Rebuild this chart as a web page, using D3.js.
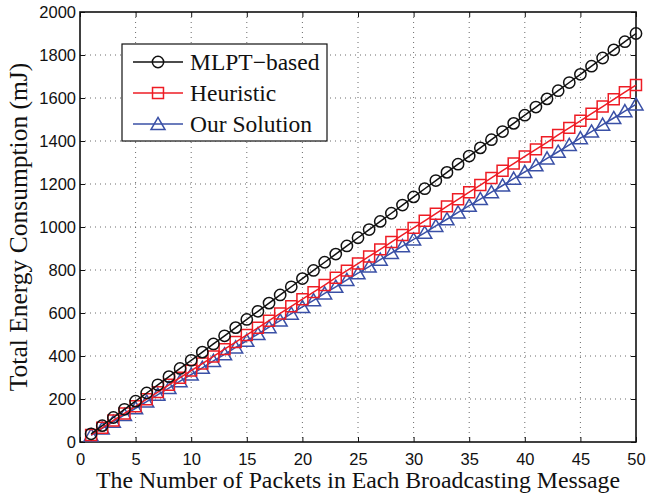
<!DOCTYPE html>
<html>
<head>
<script src="https://cdnjs.cloudflare.com/ajax/libs/d3/7.8.5/d3.min.js"></script>
<style>
  body { margin: 0; background: #fff; }
  svg text { fill: #111; }
</style>
</head>
<body>
<svg id="chart" width="647" height="496"></svg>
<script>
const packets = d3.range(1, 51)
const mlptValues = [38,76,114,152,190,228,266,304,342,380,418,456,494,532,570,608,646,684,722,760,798,836,874,912,950,988,1026,1064,1102,1140,1178,1216,1254,1292,1330,1368,1406,1444,1482,1520,1558,1596,1634,1672,1710,1748,1786,1824,1862,1900]
const heuristicValues = [33,66,100,133,166,199,232,266,299,332,365,398,432,465,498,531,564,598,631,664,697,730,764,797,830,863,896,930,963,996,1029,1062,1096,1129,1162,1195,1228,1262,1295,1328,1361,1394,1428,1461,1494,1527,1560,1594,1627,1660]
const ourValues = [31,63,94,126,157,188,220,251,283,314,345,377,408,440,471,502,534,565,597,628,659,691,722,754,785,816,848,879,911,942,973,1005,1036,1068,1099,1130,1162,1193,1225,1256,1287,1319,1350,1382,1413,1444,1476,1507,1539,1570]
const seriesNames = ["MLPT\u2212based", "Heuristic", "Our Solution"]
const xTicks = [0, 5, 10, 15, 20, 25, 30, 35, 40, 45, 50]
const yTicks = [0, 200, 400, 600, 800, 1000, 1200, 1400, 1600, 1800, 2000]

const plotLeft = 80, plotRight = 636, plotTop = 12, plotBottom = 442
const svg = d3.select("#chart")
const x = d3.scaleLinear().domain([0, 50]).range([plotLeft, plotRight])
const y = d3.scaleLinear().domain([0, 2000]).range([plotBottom, plotTop])

// grid
svg.append("g").selectAll("line").data(xTicks.slice(1, -1)).join("line")
  .attr("x1", d => x(d)).attr("x2", d => x(d)).attr("y1", plotTop).attr("y2", plotBottom)
  .attr("stroke", "#444").attr("stroke-width", 0.8).attr("stroke-dasharray", "1,4")
svg.append("g").selectAll("line").data(yTicks.slice(1, -1)).join("line")
  .attr("y1", d => y(d)).attr("y2", d => y(d)).attr("x1", plotLeft).attr("x2", plotRight)
  .attr("stroke", "#444").attr("stroke-width", 0.8).attr("stroke-dasharray", "1,4")

// axes
const tickFont = g => g.selectAll("text").style("font-family", "Liberation Sans, Arial, sans-serif").style("font-size", "16.5px").attr("fill", "#111")
svg.append("g").attr("transform", `translate(0,${plotBottom})`)
  .call(d3.axisBottom(x).tickValues(xTicks).tickSize(-5).tickPadding(11).tickFormat(d3.format("d")))
  .call(tickFont).call(g => g.select(".domain").remove())
svg.append("g").attr("transform", `translate(${plotLeft},0)`)
  .call(d3.axisLeft(y).tickValues(yTicks).tickSize(-5).tickPadding(4).tickFormat(d3.format("d")))
  .call(tickFont).call(g => g.select(".domain").remove())
svg.append("g").attr("transform", `translate(0,${plotTop})`)
  .call(d3.axisTop(x).tickValues(xTicks).tickSize(-5).tickFormat(""))
  .call(g => g.select(".domain").remove())
svg.append("g").attr("transform", `translate(${plotRight},0)`)
  .call(d3.axisRight(y).tickValues(yTicks).tickSize(-5).tickFormat(""))
  .call(g => g.select(".domain").remove())
svg.selectAll(".tick line").attr("stroke", "#111").attr("stroke-width", 1)
svg.append("rect").attr("x", plotLeft).attr("y", plotTop).attr("width", plotRight - plotLeft).attr("height", plotBottom - plotTop)
  .attr("fill", "none").attr("stroke", "#111").attr("stroke-width", 1.6)

// series
const series = [
  { name: seriesNames[0], values: mlptValues, color: "#111111", symbol: d3.symbolCircle, size: 100 },
  { name: seriesNames[1], values: heuristicValues, color: "#ee1c24", symbol: d3.symbolSquare, size: 120 },
  { name: seriesNames[2], values: ourValues, color: "#3a50a6", symbol: d3.symbolTriangle, size: 85 }
]
const line = d3.line().x((d, i) => x(packets[i])).y(d => y(d))
series.slice().reverse().forEach(s => {
  svg.append("path").datum(s.values).attr("d", line)
    .attr("fill", "none").attr("stroke", s.color).attr("stroke-width", 1.5)
  svg.append("g").selectAll("path").data(s.values).join("path")
    .attr("d", d3.symbol().type(s.symbol).size(s.size))
    .attr("transform", (d, i) => `translate(${x(packets[i])},${y(d) + (s.symbol === d3.symbolTriangle ? 1.5 : 0)})`)
    .attr("fill", "none").attr("stroke", s.color).attr("stroke-width", 1.5)
})

// legend
const legend = svg.append("g")
legend.append("rect").attr("x", 122).attr("y", 44).attr("width", 205).attr("height", 97)
  .attr("fill", "#fff").attr("stroke", "#111").attr("stroke-width", 1.2)
series.forEach((s, i) => {
  const ly = 62 + i * 31
  legend.append("line").attr("x1", 133).attr("x2", 183).attr("y1", ly).attr("y2", ly)
    .attr("stroke", s.color).attr("stroke-width", 1.5)
  legend.append("path").attr("d", d3.symbol().type(s.symbol).size(s.size))
    .attr("transform", `translate(158,${ly + (s.symbol === d3.symbolTriangle ? 1.5 : 0)})`)
    .attr("fill", "none").attr("stroke", s.color).attr("stroke-width", 1.5)
  legend.append("text").attr("x", 190).attr("y", ly + 8).text(s.name)
    .style("font-family", "Liberation Serif, Times New Roman, serif").style("font-size", "23.5px")
})

// axis titles
svg.append("text").attr("x", 358).attr("y", 488).attr("text-anchor", "middle")
  .style("font-family", "Liberation Serif, Times New Roman, serif").style("font-size", "23.8px")
  .text("The Number of Packets in Each Broadcasting Message")
svg.append("text").attr("transform", `translate(27,227) rotate(-90)`).attr("text-anchor", "middle")
  .style("font-family", "Liberation Serif, Times New Roman, serif").style("font-size", "25.5px")
  .text("Total Energy Consumption (mJ)")
</script>
</body>
</html>
